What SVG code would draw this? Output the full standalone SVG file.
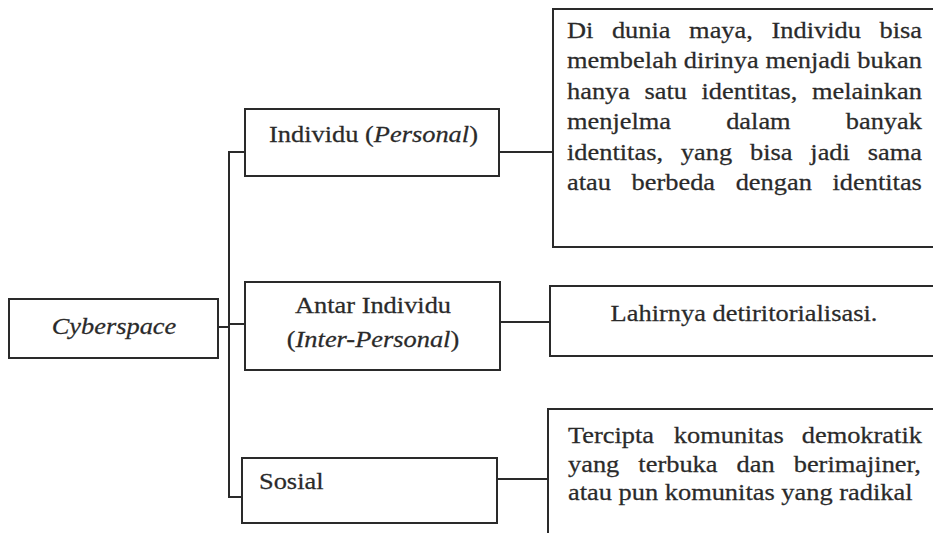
<svg xmlns="http://www.w3.org/2000/svg" width="933" height="533" viewBox="0 0 933 533">
<style>
.box{fill:#fff;stroke:#2a2a2a;stroke-width:2}
.ln{fill:none;stroke:#2a2a2a;stroke-width:2}
text{font-family:"Liberation Serif","Times New Roman",serif;font-size:23.5px;fill:#2a2a2a;stroke:#2a2a2a;stroke-width:0.25}
.it{font-style:italic}
.c{text-anchor:middle}
</style>
<rect width="933" height="533" fill="#fff"/>
<g id="connectors">
<line class="ln" x1="218" y1="327" x2="229" y2="327"/>
<line class="ln" x1="229" y1="151" x2="229" y2="498"/>
<line class="ln" x1="228" y1="152" x2="245" y2="152"/>
<line class="ln" x1="228" y1="324" x2="245" y2="324"/>
<line class="ln" x1="228" y1="497" x2="242" y2="497"/>
<line class="ln" x1="499" y1="152" x2="553" y2="152"/>
<line class="ln" x1="500" y1="322" x2="550" y2="322"/>
<line class="ln" x1="497" y1="479" x2="548" y2="479"/>
</g>
<g id="cyberspace">
<rect class="box" x="9" y="299" width="209" height="59"/>
<text class="it c" transform="translate(114,0) scale(1.1234,1)" x="0" y="334">Cyberspace</text>
</g>
<g id="individu">
<rect class="box" x="245" y="109" width="254" height="67"/>
<text transform="translate(269,0) scale(1.1234,1)" x="0" y="142">Individu (<tspan class="it">Personal</tspan>)</text>
</g>
<g id="antar-individu">
<rect class="box" x="245" y="282" width="255" height="88"/>
<text class="c" transform="translate(373,0) scale(1.1234,1)" x="0" y="313">Antar Individu</text>
<text class="c" transform="translate(373,0) scale(1.1234,1)" x="0" y="347">(<tspan class="it">Inter-Personal</tspan>)</text>
</g>
<g id="sosial">
<rect class="box" x="242" y="458" width="255" height="65"/>
<text transform="translate(259,0) scale(1.1234,1)" x="0" y="489">Sosial</text>
</g>
<g id="desc-individu">
<rect class="box" x="553" y="9" width="392" height="238"/>
<g transform="translate(567,0) scale(1.1234,1)">
<text y="38"><tspan x="0">Di</tspan><tspan x="40">dunia</tspan><tspan x="108.72">maya,</tspan><tspan x="182">Individu</tspan><tspan x="278.14">bisa</tspan></text>
<text x="0" y="68.4" textLength="315.97" lengthAdjust="spacing">membelah dirinya menjadi bukan</text>
<text y="98.8"><tspan x="0">hanya</tspan><tspan x="68.97">satu</tspan><tspan x="119.68">identitas,</tspan><tspan x="218.05">melainkan</tspan></text>
<text y="129.2"><tspan x="0">menjelma</tspan><tspan x="141.68">dalam</tspan><tspan x="248.12">banyak</tspan></text>
<text y="159.6"><tspan x="0">identitas,</tspan><tspan x="101.36">yang</tspan><tspan x="162.89">bisa</tspan><tspan x="216.58">jadi</tspan><tspan x="267.68">sama</tspan></text>
<text y="190"><tspan x="0">atau</tspan><tspan x="57.46">berbeda</tspan><tspan x="150.14">dengan</tspan><tspan x="236.32">identitas</tspan></text>
</g>
</g>
<g id="desc-antar">
<rect class="box" x="550" y="286" width="395" height="70"/>
<text class="c" transform="translate(744,0) scale(1.1234,1)" x="0" y="321">Lahirnya detiritorialisasi.</text>
</g>
<g id="desc-sosial">
<rect class="box" x="548" y="409" width="397" height="140"/>
<g transform="translate(568,0) scale(1.1234,1)">
<text y="443"><tspan x="0">Tercipta</tspan><tspan x="94.21">komunitas</tspan><tspan x="208.06">demokratik</tspan></text>
<text y="472"><tspan x="0">yang</tspan><tspan x="62.63">terbuka</tspan><tspan x="150.05">dan</tspan><tspan x="200.92">berimajiner,</tspan></text>
<text x="0" y="500">atau pun komunitas yang radikal</text>
</g>
</g>
</svg>
